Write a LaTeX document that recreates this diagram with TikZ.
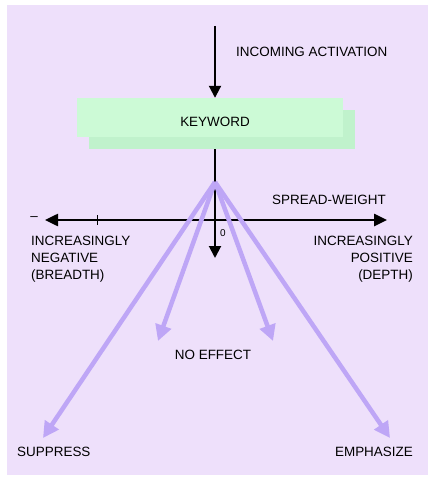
\documentclass[tikz,border=0pt]{standalone}
\usepackage{fontspec}
\setmainfont{Liberation Sans}
\usetikzlibrary{arrows.meta}
\definecolor{bglav}{RGB}{238,224,251}
\definecolor{kwgreen}{RGB}{204,250,214}
\definecolor{kwshadow}{RGB}{192,242,204}
\definecolor{fanpurple}{RGB}{190,166,246}
\tikzset{
  lbl/.style={font=\fontsize{13.5}{17}\selectfont, text=black, inner sep=0pt},
  blackarrow/.style={draw=black, line width=2pt, -{Triangle[length=12bp,width=12bp]}},
  fanarrow/.style={draw=fanpurple, line width=4.5bp, -{Triangle[length=16bp,width=16bp]}},
  box/.style={fill=kwgreen, draw=none, minimum width=266bp, minimum height=39bp, inner sep=0pt}
}
\begin{document}
\begin{tikzpicture}[x=1bp,y=-1bp]
\useasboundingbox (0,0) rectangle (430,480);
\fill[bglav] (7,5) rectangle (428,475);
% coordinates
\coordinate (in) at (215,26);
\coordinate (fan) at (215,182);
\coordinate (zero) at (215,258);
\coordinate (axl) at (45,220);
\coordinate (axr) at (387,220);
\coordinate (tick) at (97,220);
\coordinate (s1) at (43,438);
\coordinate (s2) at (158,341);
\coordinate (s3) at (273,341);
\coordinate (s4) at (390,438);
% vertical line below keyword
\draw[blackarrow] (215,137) -- (zero);
% keyword box with shadow
\node[box, fill=kwshadow] (kwsh) at (221.5,130) {};
\node[box] (kw) at (210,117.5) {};
\node[lbl] (kwt) at (215,122) {KEYWORD};
% incoming
\draw[blackarrow] (in) -- (in |- kw.north);
\node[lbl, anchor=west] (inc) at (236,52) {INCOMING ACTIVATION};
% axis
\draw[draw=black, line width=2.5pt, {Triangle[length=13bp,width=12bp]}-{Triangle[length=13bp,width=12bp]}] (axl) -- (axr);
\draw[black, line width=1pt] ([yshift=-5]tick) -- ([yshift=5]tick);
\node[lbl] (minus) at (34,219) {--};
\node[lbl] (zl) at (223,233) {\fontsize{10}{12}\selectfont 0};
\node[lbl, anchor=east] (sw) at (386,200) {SPREAD-WEIGHT};
\node[lbl, anchor=north west, align=left] (neg) at (31,236) {INCREASINGLY\\NEGATIVE\\(BREADTH)};
\node[lbl, anchor=north east, align=right] (pos) at (413,236) {INCREASINGLY\\POSITIVE\\(DEPTH)};
% fan
\draw[fanarrow] (fan) -- (s1);
\draw[fanarrow] (fan) -- (s2);
\draw[fanarrow] (fan) -- (s3);
\draw[fanarrow] (fan) -- (s4);
\node[lbl] (noeff) at (213,355) {NO EFFECT};
\node[lbl, anchor=west] (sup) at (17,452) {SUPPRESS};
\node[lbl, anchor=east] (emp) at (413,452) {EMPHASIZE};
\end{tikzpicture}
\end{document}
